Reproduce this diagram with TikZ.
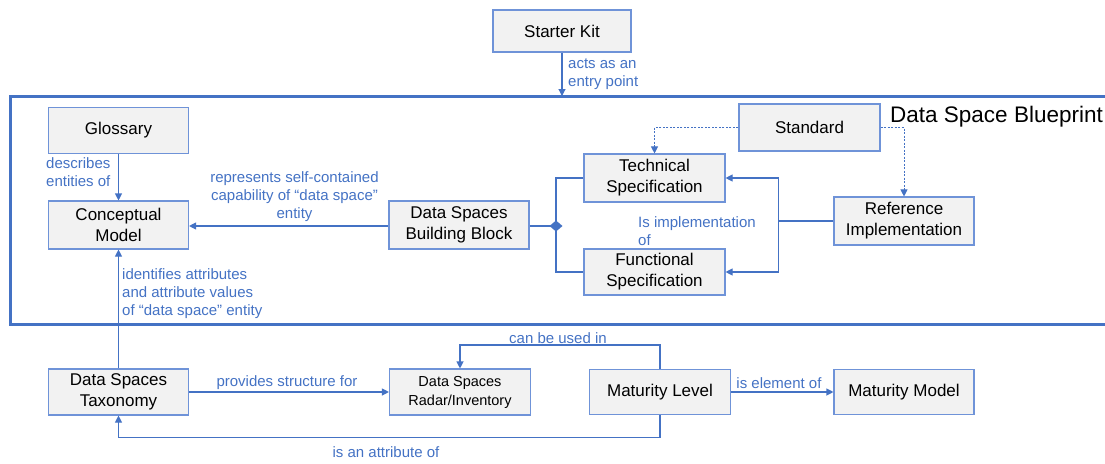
\documentclass[tikz,border=0pt]{standalone}
\usepackage{fontspec}
\setmainfont{Liberation Sans}
\usetikzlibrary{arrows.meta, shapes.geometric}

\definecolor{lineblue}{HTML}{4472C4}
\definecolor{boxblue}{HTML}{6F93D8}
\definecolor{boxgray}{HTML}{F2F2F2}

\begin{document}
\begin{tikzpicture}[
    x=1pt, y=-1pt,
    >={Triangle[length=7pt, width=7pt]},
    box/.style={draw=boxblue, fill=boxgray, line width=1.1pt, minimum width=140pt, minimum height=46pt,
        align=center, inner sep=2pt, font=\fontsize{17}{21}\selectfont},
    lbl/.style={text=lineblue, align=left, inner sep=1pt, font=\fontsize{15}{18}\selectfont},
    link/.style={->, draw=lineblue, line width=1.1pt},
    hint/.style={->, draw=lineblue, line width=0.9pt, dash pattern=on 2pt off 1.5pt},
    frame/.style={draw=lineblue, line width=3pt}
]
    \useasboundingbox (0,0) rectangle (1105,463);

    % Frame of the blueprint
    \draw[frame] (1105,96) -| (10,324) -- (1105,324);
    \node[anchor=west, inner sep=0pt, font=\fontsize{22.5}{26}\selectfont] (title) at (890,117) {Data Space Blueprint};
    \coordinate (entry) at (562,96);

    % Boxes
    \node[box, minimum width=138pt, minimum height=42pt] (starter) at (562,31) {Starter Kit};
    \node[box] (gloss) at (118.5,130.5) {Glossary};
    \node[box, minimum height=48pt] (concept) at (118.5,225) {Conceptual\\Model};
    \node[box, minimum height=48pt] (block) at (459,225) {Data Spaces\\Building Block};
    \node[box, minimum width=141pt, minimum height=48pt] (tech) at (654.5,178) {Technical\\Specification};
    \node[box, minimum width=141pt] (func) at (654.5,272) {Functional\\Specification};
    \node[box, minimum width=141pt, minimum height=47pt] (std) at (809.5,127.5) {Standard};
    \node[box, minimum height=48pt] (refimpl) at (904,221) {Reference\\Implementation};
    \node[box] (tax) at (118.5,392) {Data Spaces\\Taxonomy};
    \node[box, minimum width=141pt, font=\fontsize{14.5}{19}\selectfont] (radar) at (460,392) {Data Spaces\\Radar/Inventory};
    \node[box, minimum width=141pt, minimum height=45pt] (level) at (660,392) {Maturity Level};
    \node[box, minimum height=45pt] (mmodel) at (904,392) {Maturity Model};

    % Junction of the building block
    \coordinate (jn) at (556,226);

    % Connectors
    \draw[link] (starter) -- (entry);
    \draw[link] (gloss) -- (concept);
    \draw[link] (block.west |- jn) -- (concept.east |- jn);
    \draw[draw=lineblue, line width=1.1pt] (block.east |- jn) -- (jn);
    \draw[draw=lineblue, line width=1.1pt] (tech.west) -| (jn) |- (func.west);
    \fill[lineblue] (jn) +(-6.5,0) -- +(0,-5.5) -- +(6.5,0) -- +(0,5.5) -- cycle;
    \draw[hint] (std.west) -| (tech.north);
    \draw[hint] (std.east) -| (refimpl.north);
    \draw[link] (refimpl.west) -- ++(-55,0) |- (tech.east);
    \draw[link] (refimpl.west) -- ++(-55,0) |- (func.east);
    \draw[link] (tax) -- (concept);
    \draw[link] (tax) -- (radar);
    \draw[link] (level) -- (mmodel);
    \draw[link] (level.north) -- ++(0,-24) -| (radar.north);
    \draw[link] (level.south) -- ++(0,22) -| (tax.south);

    % Labels
    \node[lbl, anchor=west] (entrylbl) at (567,74) {acts as an\\entry point};
    \node[lbl, anchor=west] (glosslbl) at (45,172) {describes\\entities of};
    \node[lbl, align=center] (blocklbl) at (294.5,197) {represents self-contained\\capability of “data space”\\entity};
    \node[lbl, anchor=west] (taxlbl) at (121,294) {identifies attributes\\and attribute values\\of “data space” entity};
    \node[lbl, anchor=west] (impllbl) at (637,231) {Is implementation\\of};
    \node[lbl] (radarlbl) at (287,383) {provides structure for};
    \node[lbl] (usedlbl) at (558,338) {can be used in};
    \node[lbl] (elemlbl) at (779,383) {is element of};
    \node[lbl] (attrlbl) at (386,452) {is an attribute of};

\end{tikzpicture}
\end{document}
